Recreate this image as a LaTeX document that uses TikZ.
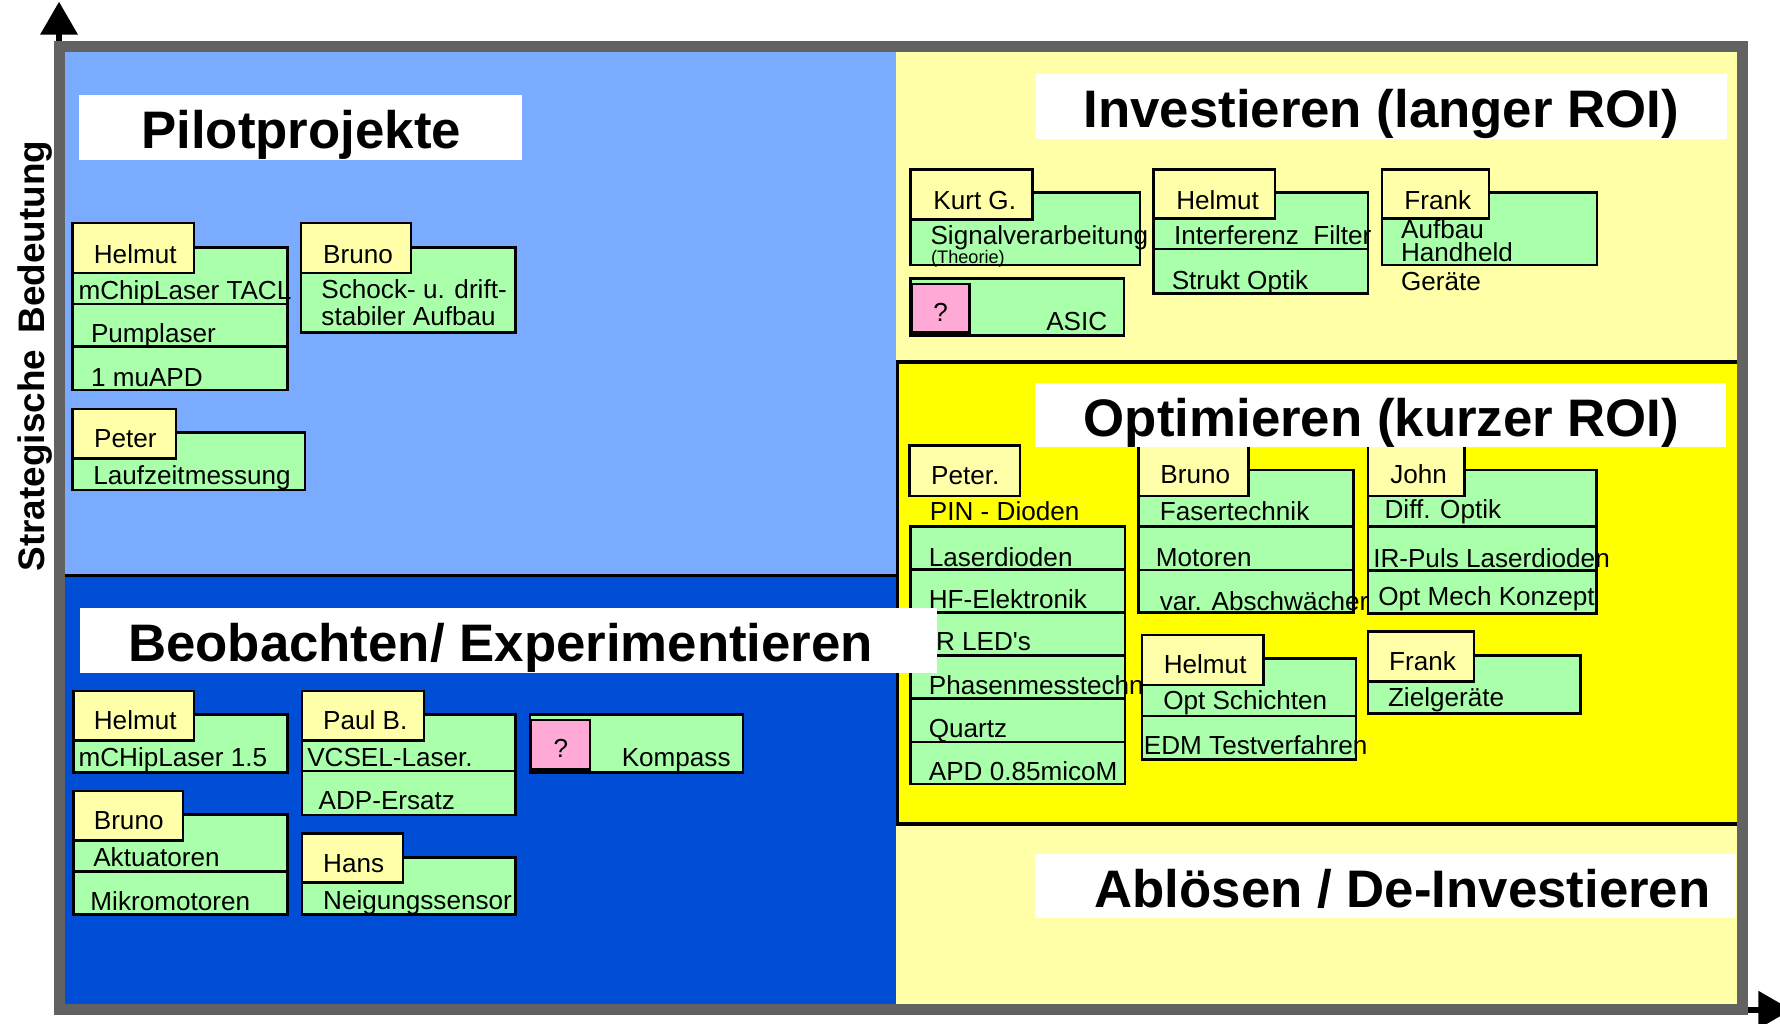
\documentclass[tikz,border=0pt]{standalone}
\usepackage{fontspec}
\setmainfont{Liberation Sans}
\usetikzlibrary{arrows.meta}
\definecolor{lblue}{RGB}{122,171,255}
\definecolor{dblue}{RGB}{0,78,214}
\definecolor{lyellow}{RGB}{255,255,168}
\definecolor{optyellow}{RGB}{255,255,0}
\definecolor{headyellow}{RGB}{255,255,170}
\definecolor{cardgreen}{RGB}{170,255,170}
\definecolor{qpink}{RGB}{255,170,214}
\definecolor{framegrey}{RGB}{98,98,98}
\tikzset{
  head/.style={fill=headyellow, draw=black, line width=2.2pt},
  body/.style={fill=cardgreen, draw=black, line width=2.2pt},
  qbox/.style={fill=qpink, draw=black, line width=2.2pt},
  cardtext/.style={anchor=base west, inner sep=0pt, align=left, font=\fontsize{23}{23}\selectfont},
  smalltext/.style={anchor=base west, inner sep=0pt, font=\fontsize{16}{16}\selectfont},
  qtext/.style={anchor=base, inner sep=0pt, font=\fontsize{23}{23}\selectfont},
  titletext/.style={anchor=base, inner sep=0pt, font=\bfseries\fontsize{46.5}{50}\selectfont},
  axistext/.style={anchor=base, inner sep=0pt, font=\bfseries\fontsize{32.5}{34}\selectfont},
  axisarrow/.style={line width=5pt, -{Triangle[width=32pt,length=29pt]}}
}
\begin{document}
\begin{tikzpicture}[x=1pt,y=-1pt]
\useasboundingbox (0,0) rectangle (1568,902);
\clip (0,0) rectangle (1568,902);
\fill [white] (0,0) rectangle (1568,902);
\fill [lblue] (57,46) rectangle (789,507);
\fill [dblue] (57,507) rectangle (789,884);
\fill [lyellow] (789,46) rectangle (1530,884);
\draw [line width=3pt, fill=optyellow] (790.5,319) rectangle (1532,726);
\draw [line width=3pt] (57,507) -- (789,507);
\draw [body] (64,218) rectangle (253.4,268);
\draw [body] (64,268) rectangle (253.4,305.4);
\draw [body] (64,305.4) rectangle (253.4,343.5);
\draw [head] (64,196.6) rectangle (171,240.5);
\node [cardtext] (p1name) at (82.5,232) {Helmut};
\node [cardtext] (p1a) at (69,263.7) {mChipLaser TACL};
\node [cardtext] (p1b) at (80,302) {Pumplaser};
\node [cardtext] (p1c) at (80,340.6) {1 muAPD};
\draw [body] (265,218) rectangle (454.3,293);
\draw [head] (265,196.6) rectangle (362,240.5);
\node [cardtext] (p2name) at (284.5,232) {Bruno};
\node [cardtext] (p2a) at (283,286.3) {Schock- u. drift-\\stabiler Aufbau};
\draw [body] (64,381) rectangle (268.7,431.6);
\draw [head] (64,360.3) rectangle (155,403.7);
\node [cardtext] (p3name) at (82.8,394) {Peter};
\node [cardtext] (p3a) at (82,426.4) {Laufzeitmessung};
\draw [body] (802,169.7) rectangle (1004,233.4);
\draw [head] (802,149.2) rectangle (909.7,193.2);
\node [cardtext] (i1name) at (822,184.4) {Kurt G.};
\node [cardtext] (i1a) at (819.5,215.8) {Signalverarbeitung};
\node [smalltext] (i1b) at (820,232) {(Theorie)};
\draw [body] (802,245.2) rectangle (990,295.7);
\draw [qbox] (803,250.2) rectangle (854,293);
\node [qtext] (i2q) at (828.5,283.4) {?};
\node [cardtext] (i2a) at (921.5,290.7) {ASIC};
\draw [body] (1016.3,169.7) rectangle (1205,219.3);
\draw [body] (1016.3,219.3) rectangle (1205,258.4);
\draw [head] (1016.3,149.2) rectangle (1123,192.4);
\node [cardtext] (i3name) at (1036,184.4) {Helmut};
\node [cardtext] (i3a) at (1034,215.8) {Interferenz~ Filter};
\node [cardtext] (i3b) at (1032,254.9) {Strukt Optik};
\draw [body] (1217.3,169.7) rectangle (1406.8,233.4);
\draw [head] (1217.3,149.2) rectangle (1311.6,192.4);
\node [cardtext] (i4name) at (1237,184.4) {Frank};
\node [cardtext] (i4a) at (1234,255.5) {Aufbau\\[-2.5pt]Handheld\\[2pt]Geräte};
\draw [head] (801.3,392.6) rectangle (898.6,436.9);
\node [cardtext] (o1name) at (820,426.6) {Peter.};
\node [cardtext] (o1pin) at (819,458.7) {PIN - Dioden};
\draw [body] (802,464) rectangle (990.9,501.5);
\draw [body] (802,501.5) rectangle (990.9,539.4);
\draw [body] (802,539.4) rectangle (990.9,577.6);
\draw [body] (802,577.6) rectangle (990.9,615.2);
\draw [body] (802,615.2) rectangle (990.9,653.4);
\draw [body] (802,653.4) rectangle (990.9,690.6);
\node [cardtext] (o1a) at (818,498.6) {Laserdioden};
\node [cardtext] (o1b) at (818,535.9) {HF-Elektronik};
\node [cardtext] (o1c) at (818,572.6) {IR LED\textquotesingle s};
\node [cardtext] (o1d) at (818,612.2) {Phasenmesstechnik};
\node [cardtext] (o1e) at (818,649.5) {Quartz};
\node [cardtext] (o1f) at (818,687.7) {APD 0.85micoM};
\draw [body] (1002.7,414) rectangle (1192.3,464);
\draw [body] (1002.7,464) rectangle (1192.3,502.1);
\draw [body] (1002.7,502.1) rectangle (1192.3,539.7);
\draw [head] (1002.7,393) rectangle (1099.6,436.9);
\node [cardtext] (o2name) at (1022,425.8) {Bruno};
\node [cardtext] (o2a) at (1021.5,458.7) {Fasertechnik};
\node [cardtext] (o2b) at (1018,498.6) {Motoren};
\node [cardtext] (o2c) at (1021.5,537.4) {var. Abschwächer};
\draw [body] (1205,414) rectangle (1406.4,464);
\draw [body] (1205,464) rectangle (1406.4,502.7);
\draw [body] (1205,502.7) rectangle (1406.4,540.3);
\draw [head] (1205,393) rectangle (1290,436.9);
\node [cardtext] (o3name) at (1224.5,425.8) {John};
\node [cardtext] (o3a) at (1219.5,456.6) {Diff. Optik};
\node [cardtext] (o3b) at (1209.5,499.8) {IR-Puls Laserdioden};
\node [cardtext] (o3c) at (1214,533.8) {Opt Mech Konzept};
\draw [body] (1006,579.9) rectangle (1194.4,630.7);
\draw [body] (1006,630.7) rectangle (1194.4,668.9);
\draw [head] (1006,559.4) rectangle (1113.1,603.4);
\node [cardtext] (o4name) at (1025,593.7) {Helmut};
\node [cardtext] (o4a) at (1024.5,625.4) {Opt Schichten};
\node [cardtext] (o4b) at (1007.5,665) {EDM Testverfahren};
\draw [body] (1205,577.6) rectangle (1392.4,628.4);
\draw [head] (1205,556.4) rectangle (1298.5,600.5);
\node [cardtext] (o5name) at (1223.5,590.8) {Frank};
\node [cardtext] (o5a) at (1222.5,622.5) {Zielgeräte};
\draw [body] (64.7,629.3) rectangle (253.4,680.3);
\draw [head] (64.7,608.7) rectangle (170.8,652.5);
\node [cardtext] (b1name) at (82.5,643) {Helmut};
\node [cardtext] (b1a) at (69,675.4) {mCHipLaser 1.5};
\draw [body] (266,629.3) rectangle (454,679.2);
\draw [body] (266,679.2) rectangle (454,718);
\draw [head] (266,608.7) rectangle (373.3,652.5);
\node [cardtext] (b2name) at (284.5,643) {Paul B.};
\node [cardtext] (b2a) at (270.5,675.4) {VCSEL-Laser.};
\node [cardtext] (b2b) at (280.5,713.5) {ADP-Ersatz};
\draw [body] (467,629.3) rectangle (654.5,680.3);
\draw [qbox] (467.8,634.3) rectangle (519.7,677.7);
\node [qtext] (b3q) at (494,667) {?};
\node [cardtext] (b3a) at (547.5,675.4) {Kompass};
\draw [body] (64.7,717.3) rectangle (253.4,767.9);
\draw [body] (64.7,767.9) rectangle (253.4,805.4);
\draw [head] (64.7,696.8) rectangle (161,740.6);
\node [cardtext] (b4name) at (82.5,730.5) {Bruno};
\node [cardtext] (b4a) at (82,762.9) {Aktuatoren};
\node [cardtext] (b4b) at (79.5,802.2) {Mikromotoren};
\draw [body] (266,755.2) rectangle (454,805.4);
\draw [head] (266,734) rectangle (354.9,777.6);
\node [cardtext] (b5name) at (284.5,768.8) {Hans};
\node [cardtext] (b5a) at (284.5,801) {Neigungssensor};
\fill [white] (70,84) rectangle (459.5,141);
\node [titletext] (tpilot) at (265.2,130.7) {Pilotprojekte};
\fill [white] (912.6,65.2) rectangle (1521.7,122.4);
\node [titletext] (tinvest) at (1216.7,112.2) {Investieren (langer ROI)};
\fill [white] (911.6,337.7) rectangle (1520.6,394);
\node [titletext] (toptim) at (1217,384.7) {Optimieren (kurzer ROI)};
\fill [white] (70.6,536) rectangle (825,592.6);
\node [titletext] (tbeob) at (441,582.9) {Beobachten/ Experimentieren};
\fill [white] (911.6,752.3) rectangle (1529.5,809);
\node [titletext] (tabl) at (1235.5,799.3) {Ablösen / De-Investieren};
\coordinate (ytop) at (52,41);
\coordinate (ytip) at (52,1.5);
\coordinate (xstart) at (1540,889.5);
\coordinate (xtip) at (1578,889.5);
\draw [axisarrow] (ytop) -- (ytip);
\draw [axisarrow] (xstart) -- (xtip);
\draw [framegrey, line width=10pt] (52.2,40.8) rectangle (1535,889.2);
\node [axistext, rotate=90] (yaxis) at (39.5,313.5) {Strategische\hspace{0.45em}Bedeutung};
\end{tikzpicture}
\end{document}
